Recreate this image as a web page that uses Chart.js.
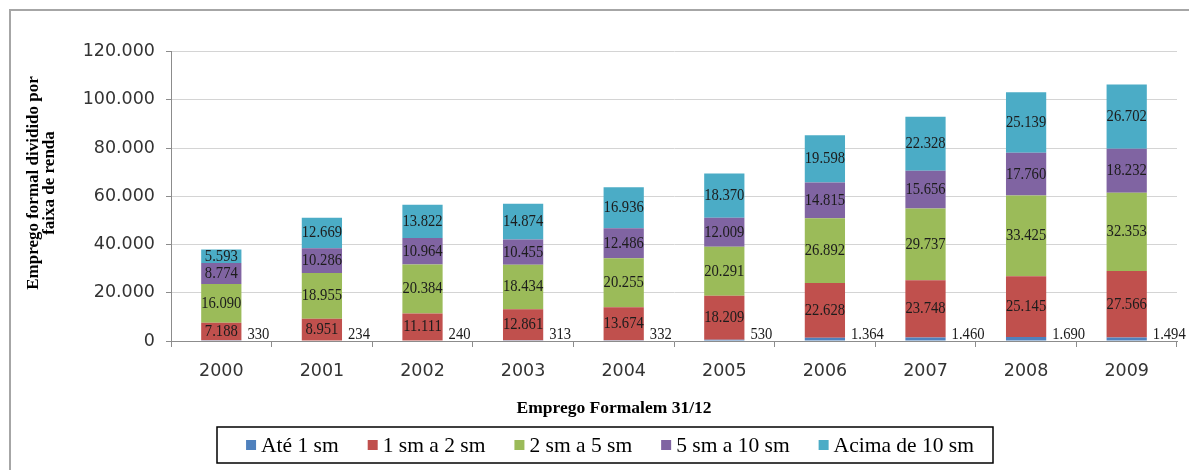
<!DOCTYPE html>
<html lang="pt-BR">
<head>
<meta charset="utf-8">
<title>Emprego formal por faixa de renda</title>
<script src="https://cdn.jsdelivr.net/npm/chart.js@4.4.1/dist/chart.umd.min.js"></script>
<style>
  html, body { margin: 0; padding: 0; background: #ffffff; }
  #wrap { width: 1189px; height: 470px; position: relative; }
</style>
</head>
<body>
<div id="wrap"><canvas id="chart" width="1189" height="470"></canvas></div>
<script>
// Anos (31/12)
const years = ['2000', '2001', '2002', '2003', '2004', '2005', '2006', '2007', '2008', '2009'];

// Faixas de renda
const seriesNames = ['Até 1 sm', '1 sm a 2 sm', '2 sm a 5 sm', '5 sm a 10 sm', 'Acima de 10 sm'];

// Empregos formais por faixa
const ate1sm     = [330, 234, 240, 313, 332, 530, 1364, 1460, 1690, 1494];
const de1a2sm    = [7188, 8951, 11111, 12861, 13674, 18209, 22628, 23748, 25145, 27566];
const de2a5sm    = [16090, 18955, 20384, 18434, 20255, 20291, 26892, 29737, 33425, 32353];
const de5a10sm   = [8774, 10286, 10964, 10455, 12486, 12009, 14815, 15656, 17760, 18232];
const acima10sm  = [5593, 12669, 13822, 14874, 16936, 18370, 19598, 22328, 25139, 26702];

// Eixo Y
const yTicks = [0, 20000, 40000, 60000, 80000, 100000, 120000];

const yTitleLines = ['Emprego formal dividido por', 'faixa de renda'];
const xTitle = 'Emprego Formalem 31/12';

const colors = ['#4F81BD', '#C0504D', '#9BBB59', '#8064A2', '#4BACC6'];
const allSeries = [ate1sm, de1a2sm, de2a5sm, de5a10sm, acima10sm];

function fmt(v) {
  return String(v).replace(/\B(?=(\d{3})+(?!\d))/g, '.');
}

const serif = '"Liberation Serif", "Times New Roman", serif';
const sans = '"DejaVu Sans", Verdana, sans-serif';

const decor = {
  id: 'decor',
  beforeDraw(chart) {
    const ctx = chart.ctx;
    ctx.save();
    ctx.strokeStyle = '#a6a6a6';
    ctx.lineWidth = 2;
    ctx.beginPath();
    ctx.moveTo(10, 480);
    ctx.lineTo(10, 10);
    ctx.lineTo(1200, 10);
    ctx.stroke();
    ctx.restore();
  },
  afterDatasetsDraw(chart) {
    const ctx = chart.ctx;
    ctx.save();
    ctx.fillStyle = '#1c1c1c';
    ctx.font = '17px ' + serif;
    ctx.textBaseline = 'middle';
    chart.data.datasets.forEach((ds, i) => {
      const meta = chart.getDatasetMeta(i);
      meta.data.forEach((el, j) => {
        const txt = fmt(ds.data[j]);
        ctx.save();
        if (i === 0) {
          // small values sit beside the bar, at its foot
          ctx.translate(el.x + el.width / 2 + 6, el.base - 6);
          ctx.textAlign = 'left';
        } else {
          ctx.translate(el.x, (el.y + el.base) / 2);
          ctx.textAlign = 'center';
        }
        ctx.scale(0.86, 1);
        ctx.fillText(txt, 0, 0);
        ctx.restore();
      });
    });
    ctx.restore();
  },
  afterDraw(chart) {
    const ctx = chart.ctx;
    ctx.save();
    ctx.fillStyle = '#000000';

    // Y axis title (two lines, rotated)
    ctx.font = 'bold 17px ' + serif;
    ctx.textAlign = 'center';
    ctx.textBaseline = 'middle';
    ctx.save();
    ctx.translate(41, 183);
    ctx.rotate(-Math.PI / 2);
    ctx.fillText(yTitleLines[0], 0, -7);
    ctx.fillText(yTitleLines[1], 0, 9);
    ctx.restore();

    // X axis title
    ctx.font = 'bold 17.5px ' + serif;
    ctx.fillText(xTitle, 614, 408);

    // Legend box
    const bx = 217, by = 427, bw = 776, bh = 36;
    ctx.strokeStyle = '#000000';
    ctx.lineWidth = 1.5;
    ctx.strokeRect(bx, by, bw, bh);
    ctx.font = '21.5px ' + serif;
    ctx.textAlign = 'left';
    const sq = 10, gapSq = 5, gapItem = 29;
    const widths = chart.data.datasets.map(d => sq + gapSq + ctx.measureText(d.label).width);
    const total = widths.reduce((a, b) => a + b, 0) + gapItem * (widths.length - 1);
    let x = bx + bw / 2 - total / 2 + 5;
    const cy = by + bh / 2;
    chart.data.datasets.forEach((d, i) => {
      ctx.fillStyle = d.backgroundColor;
      ctx.fillRect(x, cy - sq / 2, sq, sq);
      ctx.fillStyle = '#000000';
      ctx.fillText(d.label, x + sq + gapSq, cy + 1);
      x += widths[i] + gapItem;
    });
    ctx.restore();
  }
};

new Chart(document.getElementById('chart'), {
  type: 'bar',
  data: {
    labels: years,
    datasets: allSeries.map((vals, i) => ({
      label: seriesNames[i],
      data: vals,
      backgroundColor: colors[i],
      borderWidth: 0,
      categoryPercentage: 1,
      barPercentage: 0.4
    }))
  },
  options: {
    responsive: false,
    animation: false,
    devicePixelRatio: 1,
    layout: { padding: { top: 51.5, right: 12, bottom: 0, left: 0 } },
    plugins: {
      legend: { display: false },
      tooltip: { enabled: false },
      title: { display: false }
    },
    scales: {
      x: {
        stacked: true,
        grid: {
          offset: true,
          drawOnChartArea: false,
          drawTicks: true,
          tickLength: 6,
          tickColor: '#8c8c8c'
        },
        border: { color: '#8c8c8c', width: 1 },
        ticks: {
          color: '#333333',
          font: { family: sans, size: 17.5 },
          padding: 14,
          maxRotation: 0
        },
        afterFit(scale) { scale.height = 129; }
      },
      y: {
        stacked: true,
        min: 0,
        max: 120000,
        grid: {
          color: '#d4d4d4',
          tickColor: '#8c8c8c',
          tickLength: 5
        },
        border: { color: '#8c8c8c', width: 1 },
        afterBuildTicks(scale) {
          scale.ticks = yTicks.map(v => ({ value: v }));
        },
        ticks: {
          color: '#333333',
          font: { family: sans, size: 17.5 },
          padding: 11,
          callback: v => fmt(v)
        },
        afterFit(scale) { scale.width = 171; }
      }
    }
  },
  plugins: [decor]
});
</script>
</body>
</html>
